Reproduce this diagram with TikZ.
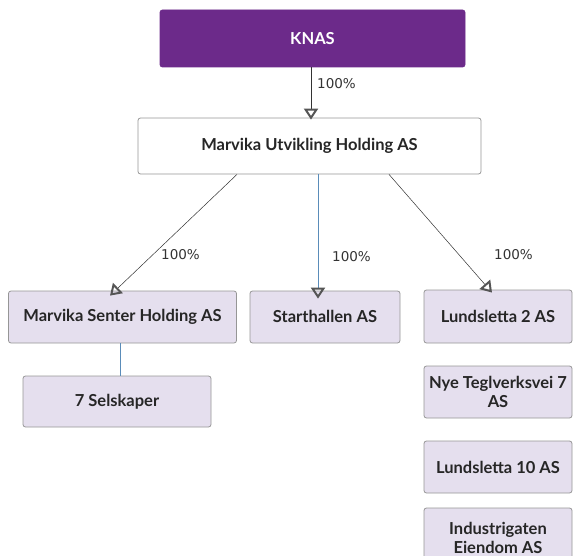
\documentclass[tikz,border=0pt]{standalone}
\usepackage{fontspec}
\setmainfont{Lato}
\newfontfamily\lblfont{DejaVu Sans}
\usetikzlibrary{arrows.meta,calc}
\definecolor{knas}{RGB}{108,42,138}
\definecolor{lav}{RGB}{229,223,238}
\definecolor{bord}{RGB}{150,150,150}
\definecolor{bline}{RGB}{90,140,185}
\definecolor{tipc}{RGB}{85,85,85}
\begin{document}
\begin{tikzpicture}[x=1pt,y=-1pt,
  box/.style={draw=bord,line width=0.8pt,rounded corners=2.5pt,fill=lav,align=center,
    font=\fontsize{16.5}{18.5}\selectfont\bfseries,text=black!85,inner sep=1pt},
  pct/.style={font=\lblfont\fontsize{13.5}{15}\selectfont,text=black!80,anchor=west,inner sep=0pt},
  own/.style={line width=0.5pt,draw=black!80,
    -{Triangle[open,length=11pt,width=14pt,line width=2pt,color=tipc]}},
  ownb/.style={own,draw=bline,line width=0.8pt},
  link/.style={draw=bline,line width=0.8pt}]
\useasboundingbox (0,0) rectangle (573,556);
\clip (0,0) rectangle (573,556);
\node[box,fill=knas,draw=knas,text=white,minimum width=305pt,minimum height=57pt] (knas) at (312.5,38.5) {KNAS};
\node[box,fill=white,minimum width=343pt,minimum height=56pt] (muh) at (309.5,146) {Marvika Utvikling Holding AS};
\node[box,minimum width=228pt,minimum height=52pt] (msh) at (122.5,317) {Marvika Senter Holding AS};
\node[box,minimum width=150pt,minimum height=52pt] (sta) at (325,317) {\raisebox{2pt}{Starthallen AS}};
\node[box,minimum width=148pt,minimum height=53pt] (l2) at (498,316.5) {\raisebox{-3pt}{Lundsletta 2 AS}};
\node[box,minimum width=188pt,minimum height=51pt] (sel) at (117,401.5) {7 Selskaper};
\node[box,minimum width=148pt,minimum height=52pt] (nye) at (498,392) {Nye Teglverksvei 7\\AS};
\node[box,minimum width=148pt,minimum height=52pt] (l10) at (498,467) {Lundsletta 10 AS};
\node[box,minimum width=148pt,minimum height=62pt] (ind) at (498,539) {\raisebox{2pt}{\shortstack{Industrigaten\\[1pt]Eiendom AS}}};
% connectors
\draw[own] (knas.south -| 311,0) -- ([yshift=-2pt]muh.north -| 311,0);
\node[pct] (p0) at (317,84) {100\%};
\draw[own] ([xshift=-72.5pt]muh.south) -- ([xshift=-12.5pt,yshift=-5pt]msh.north);
\node[pct] (p1) at (161,255) {100\%};
\draw[ownb] ([xshift=8.5pt]muh.south) -- ([xshift=-7pt,yshift=-8pt]sta.north);
\draw[own,draw=black!80,line width=0.5pt] ([xshift=79.5pt]muh.south) -- ([xshift=-6pt,yshift=-3pt]l2.north);
\node[pct] (p2) at (332,257) {100\%};
\node[pct] (p3) at (494,255) {100\%};
\draw[link] (msh.south -| 120,0) -- (sel.north -| 120,0);
\end{tikzpicture}
\end{document}
